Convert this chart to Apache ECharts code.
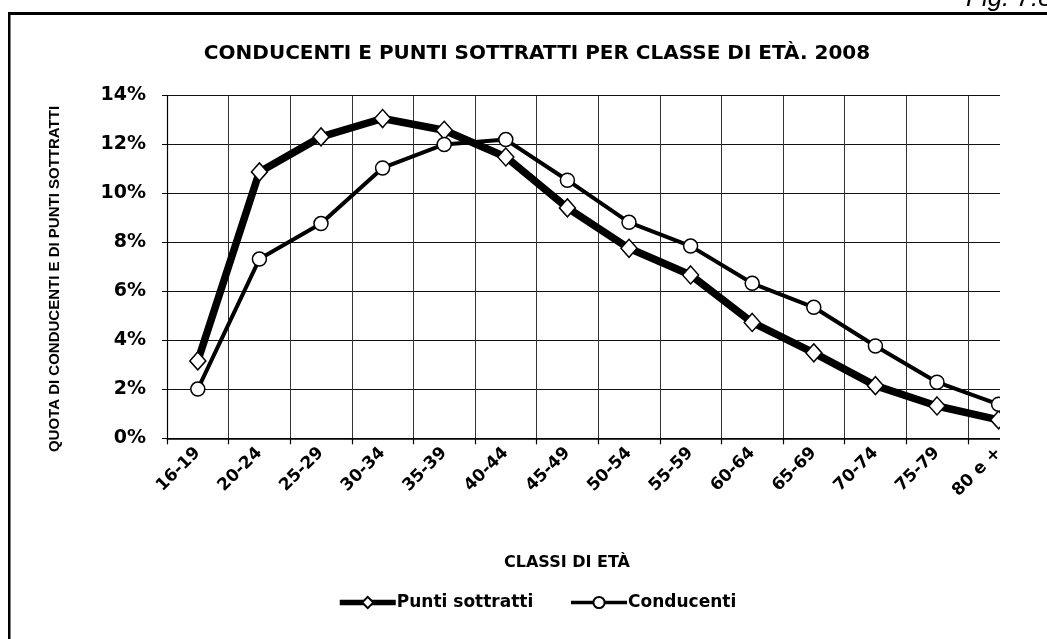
<!DOCTYPE html>
<html>
<head>
<meta charset="utf-8">
<script src="https://cdn.jsdelivr.net/npm/echarts@6/dist/echarts.min.js"></script>
<style>
html,body{margin:0;padding:0;background:#fff;}
#c{width:1047px;height:639px;}
</style>
</head>
<body>
<div id="c"></div>
<script>
const categories = ['16-19','20-24','25-29','30-34','35-39','40-44','45-49','50-54','55-59','60-64','65-69','70-74','75-79','80 e +'];
const puntiSottratti = [3.16, 10.88, 12.31, 13.06, 12.58, 11.49, 9.41, 7.76, 6.67, 4.73, 3.49, 2.15, 1.32, 0.75];
const conducenti = [2.01, 7.32, 8.77, 11.04, 12.0, 12.2, 10.54, 8.82, 7.85, 6.33, 5.35, 3.77, 2.29, 1.39];
const yTicks = {min: 0, max: 14, interval: 2};

const FONT = 'DejaVu Sans';
const chart = echarts.init(document.getElementById('c'), null, {renderer: 'canvas'});
chart.setOption({
  animation: false,
  backgroundColor: '#fff',
  textStyle: {fontFamily: FONT, fontWeight: 'bold', color: '#000'},
  title: {
    text: 'CONDUCENTI E PUNTI SOTTRATTI PER CLASSE DI ETÀ. 2008',
    left: 532, top: 39, textAlign: 'center',
    textStyle: {fontFamily: FONT, fontWeight: 'bold', fontSize: 20, color: '#000'}
  },
  legend: {
    left: 337, top: 594, padding: 0,
    itemWidth: 56, itemHeight: 14, itemGap: 36,
    textStyle: {fontFamily: FONT, fontWeight: 'bold', fontSize: 17, color: '#000', padding: [0,0,0,-4]},
    data: [
      {name: 'Punti sottratti', lineStyle: {width: 5.5, color: '#000'}},
      {name: 'Conducenti', lineStyle: {width: 3.5, color: '#000'}}
    ]
  },
  grid: {left: 167, right: 17.6, top: 95.5, bottom: 200.7, containLabel: false},
  xAxis: {
    type: 'category',
    data: categories,
    boundaryGap: true,
    axisLine: {lineStyle: {color: '#000', width: 1.5}},
    axisTick: {show: true, length: 6, lineStyle: {color: '#000', width: 1.2}},
    axisLabel: {rotate: 45, margin: 12, fontFamily: FONT, fontWeight: 'bold', fontSize: 17, color: '#000', interval: 0},
    splitLine: {show: true, lineStyle: {color: '#333', width: 1}}
  },
  yAxis: {
    type: 'value',
    min: yTicks.min, max: yTicks.max, interval: yTicks.interval,
    axisLine: {show: true, lineStyle: {color: '#000', width: 1.2}},
    axisTick: {show: true, length: 5, lineStyle: {color: '#000'}},
    axisLabel: {formatter: '{value}%', margin: 21, fontFamily: FONT, fontWeight: 'bold', fontSize: 19, color: '#000'},
    splitLine: {show: true, lineStyle: {color: '#111', width: 1.2}}
  },
  series: [
    {
      name: 'Conducenti', type: 'line', data: conducenti, z: 3,
      symbol: 'circle', symbolSize: 14,
      lineStyle: {color: '#000', width: 4},
      itemStyle: {color: '#fff', borderColor: '#000', borderWidth: 1.5}
    },
    {
      name: 'Punti sottratti', type: 'line', data: puntiSottratti, z: 2,
      symbol: 'diamond', symbolSize: [16, 18],
      lineStyle: {color: '#000', width: 7.5},
      itemStyle: {color: '#fff', borderColor: '#000', borderWidth: 1.5}
    }
  ],
  graphic: [
    {type: 'rect', shape: {x: 1000, y: 16, width: 60, height: 640}, style: {fill: '#fff'}, z: 100},
    {type: 'rect', shape: {x: 8, y: 12, width: 1050, height: 3}, style: {fill: '#000'}, z: 101},
    {type: 'rect', shape: {x: 8, y: 12, width: 2.5, height: 640}, style: {fill: '#000'}, z: 101},
    {type: 'text', x: 966, y: -14, z: 101,
     style: {text: 'Fig. 7.8', font: 'italic 26px "Liberation Sans"', fill: '#000'}},
    {type: 'text', x: 567, y: 563, z: 101,
     style: {text: 'CLASSI DI ETÀ', font: 'bold 16px "DejaVu Sans"', fill: '#000', textAlign: 'center', textVerticalAlign: 'middle'}},
    {type: 'text', x: 55, y: 279, rotation: Math.PI / 2, z: 101,
     style: {text: 'QUOTA DI CONDUCENTI E DI PUNTI SOTTRATTI', font: 'bold 15px "Liberation Sans"', fill: '#000', textAlign: 'center', textVerticalAlign: 'middle'}}
  ]
});
</script>
</body>
</html>
